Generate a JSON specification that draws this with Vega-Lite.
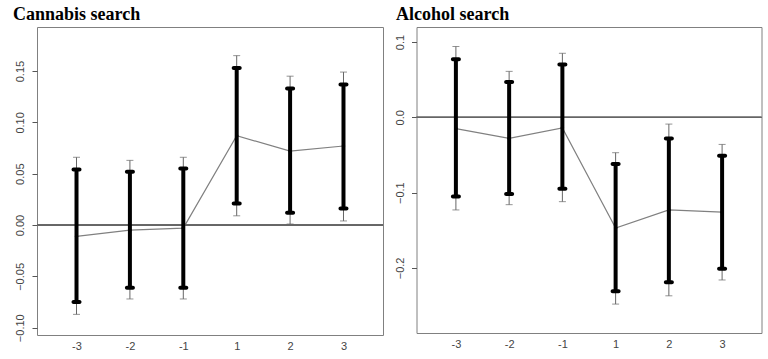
{
  "$schema": "https://vega.github.io/schema/vega-lite/v6.json",
  "padding": {"left": 0, "top": 5, "right": 0, "bottom": 0},
  "background": "white",
  "spacing": 6.5,
  "config": {
    "view": {"stroke": "#808080", "strokeWidth": 1},
    "axis": {"labelFont": "Liberation Sans", "labelFontSize": 11, "labelColor": "#444", "grid": false, "domain": false, "tickColor": "#555", "title": null},
    "title": {"font": "'Liberation Serif', 'DejaVu Serif', serif", "fontSize": 18, "fontWeight": "bold", "color": "#000", "anchor": "start", "frame": "group", "baseline": "alphabetic", "offset": 3}
  },
  "hconcat": [
    {
      "title": {"text": "Cannabis search", "dx": -24},
      "width": 346,
      "height": 308,
      "data": {"values": [
        {"idx": 1, "mean": -0.011, "lo": -0.075, "hi": 0.054, "tlo": -0.087, "thi": 0.066},
        {"idx": 2, "mean": -0.005, "lo": -0.061, "hi": 0.052, "tlo": -0.072, "thi": 0.063},
        {"idx": 3, "mean": -0.003, "lo": -0.061, "hi": 0.055, "tlo": -0.072, "thi": 0.066},
        {"idx": 4, "mean": 0.087, "lo": 0.021, "hi": 0.153, "tlo": 0.009, "thi": 0.165},
        {"idx": 5, "mean": 0.072, "lo": 0.012, "hi": 0.133, "tlo": 0.001, "thi": 0.145},
        {"idx": 6, "mean": 0.077, "lo": 0.016, "hi": 0.137, "tlo": 0.004, "thi": 0.149}
      ]},
      "encoding": {
        "x": {"field": "idx", "type": "quantitative", "scale": {"domain": [0.26, 6.74], "nice": false, "zero": false},
              "axis": {"values": [1, 2, 3, 4, 5, 6], "labelExpr": "datum.value <= 3 ? datum.value - 4 : datum.value - 3", "ticks": false, "labelPadding": 5}}
      },
      "layer": [
        {"mark": {"type": "rule", "color": "#666", "strokeWidth": 1}, "encoding": {"y": {"datum": 0, "type": "quantitative"}, "x": null}},
        {"mark": {"type": "rule", "color": "#666", "strokeWidth": 1},
         "encoding": {"y": {"field": "tlo", "type": "quantitative",
                            "scale": {"domain": [-0.1071, 0.1929], "nice": false, "zero": false},
                            "axis": {"values": [-0.1, -0.05, 0, 0.05, 0.1, 0.15], "format": ".2f", "labelAngle": -90, "labelAlign": "center", "labelBaseline": "bottom", "tickSize": 5, "labelPadding": 7, "minExtent": 36, "maxExtent": 36}},
                      "y2": {"field": "thi"}}},
        {"mark": {"type": "tick", "orient": "horizontal", "color": "#666", "size": 7, "thickness": 1}, "encoding": {"y": {"field": "tlo", "type": "quantitative"}}},
        {"mark": {"type": "tick", "orient": "horizontal", "color": "#666", "size": 7, "thickness": 1}, "encoding": {"y": {"field": "thi", "type": "quantitative"}}},
        {"mark": {"type": "line", "color": "#808080", "strokeWidth": 1.2}, "encoding": {"y": {"field": "mean", "type": "quantitative"}}},
        {"mark": {"type": "rule", "color": "#000", "strokeWidth": 4}, "encoding": {"y": {"field": "lo", "type": "quantitative"}, "y2": {"field": "hi"}}},
        {"mark": {"type": "tick", "orient": "horizontal", "color": "#000", "size": 10, "thickness": 4, "cornerRadius": 2, "opacity": 1}, "encoding": {"y": {"field": "lo", "type": "quantitative"}}},
        {"mark": {"type": "tick", "orient": "horizontal", "color": "#000", "size": 10, "thickness": 4, "cornerRadius": 2, "opacity": 1}, "encoding": {"y": {"field": "hi", "type": "quantitative"}}},
        {"mark": {"type": "circle", "color": "#000", "size": 12, "opacity": 1}, "encoding": {"y": {"field": "mean", "type": "quantitative"}}}
      ]
    },
    {
      "title": {"text": "Alcohol search", "dx": -20.5},
      "width": 345,
      "height": 306,
      "data": {"values": [
        {"idx": 1, "mean": -0.015, "lo": -0.105, "hi": 0.077, "tlo": -0.123, "thi": 0.094},
        {"idx": 2, "mean": -0.028, "lo": -0.102, "hi": 0.047, "tlo": -0.116, "thi": 0.061},
        {"idx": 3, "mean": -0.014, "lo": -0.095, "hi": 0.070, "tlo": -0.112, "thi": 0.085},
        {"idx": 4, "mean": -0.147, "lo": -0.231, "hi": -0.062, "tlo": -0.248, "thi": -0.047},
        {"idx": 5, "mean": -0.123, "lo": -0.219, "hi": -0.028, "tlo": -0.237, "thi": -0.009},
        {"idx": 6, "mean": -0.126, "lo": -0.201, "hi": -0.051, "tlo": -0.216, "thi": -0.036}
      ]},
      "encoding": {
        "x": {"field": "idx", "type": "quantitative", "scale": {"domain": [0.26, 6.74], "nice": false, "zero": false},
              "axis": {"values": [1, 2, 3, 4, 5, 6], "labelExpr": "datum.value <= 3 ? datum.value - 4 : datum.value - 3", "ticks": false, "labelPadding": 5}}
      },
      "layer": [
        {"mark": {"type": "rule", "color": "#666", "strokeWidth": 1}, "encoding": {"y": {"datum": 0, "type": "quantitative"}, "x": null}},
        {"mark": {"type": "rule", "color": "#666", "strokeWidth": 1},
         "encoding": {"y": {"field": "tlo", "type": "quantitative",
                            "scale": {"domain": [-0.2864, 0.1199], "nice": false, "zero": false},
                            "axis": {"values": [-0.2, -0.1, 0, 0.1], "format": ".1f", "labelAngle": -90, "labelAlign": "center", "labelBaseline": "bottom", "tickSize": 5, "labelPadding": 6, "minExtent": 25, "maxExtent": 25}},
                      "y2": {"field": "thi"}}},
        {"mark": {"type": "tick", "orient": "horizontal", "color": "#666", "size": 7, "thickness": 1}, "encoding": {"y": {"field": "tlo", "type": "quantitative"}}},
        {"mark": {"type": "tick", "orient": "horizontal", "color": "#666", "size": 7, "thickness": 1}, "encoding": {"y": {"field": "thi", "type": "quantitative"}}},
        {"mark": {"type": "line", "color": "#808080", "strokeWidth": 1.2}, "encoding": {"y": {"field": "mean", "type": "quantitative"}}},
        {"mark": {"type": "rule", "color": "#000", "strokeWidth": 4}, "encoding": {"y": {"field": "lo", "type": "quantitative"}, "y2": {"field": "hi"}}},
        {"mark": {"type": "tick", "orient": "horizontal", "color": "#000", "size": 10, "thickness": 4, "cornerRadius": 2, "opacity": 1}, "encoding": {"y": {"field": "lo", "type": "quantitative"}}},
        {"mark": {"type": "tick", "orient": "horizontal", "color": "#000", "size": 10, "thickness": 4, "cornerRadius": 2, "opacity": 1}, "encoding": {"y": {"field": "hi", "type": "quantitative"}}},
        {"mark": {"type": "circle", "color": "#000", "size": 12, "opacity": 1}, "encoding": {"y": {"field": "mean", "type": "quantitative"}}}
      ]
    }
  ]
}
